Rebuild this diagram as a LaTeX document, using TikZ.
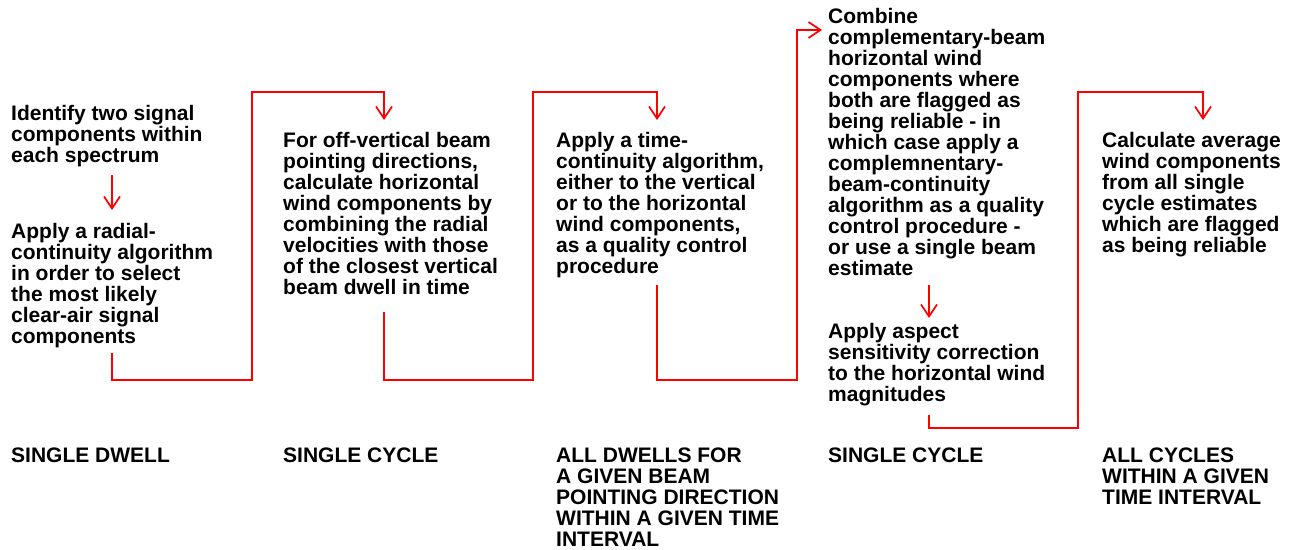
\documentclass[tikz,border=0pt]{standalone}
\usepackage{fontspec}
\setmainfont{Liberation Sans}
\newfontfamily\bodyfont{Liberation Sans}
\newfontfamily\capfont{Liberation Sans}
\usetikzlibrary{arrows.meta}
\begin{document}
\begin{tikzpicture}[x=1pt,y=-1pt,
  txt/.style={anchor=base west, inner sep=0pt, align=left, font=\bodyfont\bfseries\fontsize{21}{21}\selectfont},
  scalelbl/.style={anchor=base west, inner sep=0pt, align=left, font=\capfont\bfseries\fontsize{21}{21}\selectfont},
  flow/.style={draw=red, line width=1.7pt, line join=miter, -{Straight Barb[length=12pt,width=16pt]}}
]
\path[use as bounding box] (0,0) rectangle (1293,549);

% step texts (anchored at the baseline of their last line)
\node[txt] (t1) at (11,162) {Identify two signal\\components within\\each spectrum};
\node[txt] (t2) at (11,343) {Apply a radial-\\continuity algorithm\\in order to select\\the most likely\\clear-air signal\\components};
\node[txt] (t3) at (283,294) {For off-vertical beam\\pointing directions,\\calculate horizontal\\wind components by\\combining the radial\\velocities with those\\of the closest vertical\\beam dwell in time};
\node[txt] (t4) at (556,273) {Apply a time-\\continuity algorithm,\\either to the vertical\\or to the horizontal\\wind components,\\as a quality control\\procedure};
\node[txt] (t5) at (828,275) {Combine\\complementary-beam\\horizontal wind\\components where\\both are flagged as\\being reliable - in\\which case apply a\\complemnentary-\\beam-continuity\\algorithm as a quality\\control procedure -\\or use a single beam\\estimate};
\node[txt] (t6) at (828,401) {Apply aspect\\sensitivity correction\\to the horizontal wind\\magnitudes};
\node[txt] (t7) at (1102,252) {Calculate average\\wind components\\from all single\\cycle estimates\\which are flagged\\as being reliable};

% captions
\node[scalelbl] (c1) at (11,462) {SINGLE DWELL};
\node[scalelbl] (c2) at (283,462) {SINGLE CYCLE};
\node[scalelbl] (c3) at (556,546) {ALL DWELLS FOR\\A GIVEN BEAM\\POINTING DIRECTION\\WITHIN A GIVEN TIME\\INTERVAL};
\node[scalelbl] (c4) at (828,462) {SINGLE CYCLE};
\node[scalelbl] (c5) at (1102,504) {ALL CYCLES\\WITHIN A GIVEN\\TIME INTERVAL};

% connector end points
\coordinate (a1s) at (112,175); \coordinate (a1e) at (112,210);
\coordinate (a2s) at (112,353); \coordinate (a2e) at (384,120);
\coordinate (a3s) at (384,312); \coordinate (a3e) at (657,120);
\coordinate (a4s) at (657,285); \coordinate (a4e) at (822,30);
\coordinate (a5s) at (929,285); \coordinate (a5e) at (929,318);
\coordinate (a6s) at (929,415); \coordinate (a6e) at (1203,120);

\draw[flow] (a1s) -- (a1e);
\draw[flow] (a2s) -- (112,380) -- (252,380) -- (252,92) -- (384,92) -- (a2e);
\draw[flow] (a3s) -- (384,380) -- (533,380) -- (533,92) -- (657,92) -- (a3e);
\draw[flow] (a4s) -- (657,380) -- (797,380) -- (797,30) -- (a4e);
\draw[flow] (a5s) -- (a5e);
\draw[flow] (a6s) -- (929,428) -- (1078,428) -- (1078,92) -- (1203,92) -- (a6e);
\end{tikzpicture}
\end{document}
